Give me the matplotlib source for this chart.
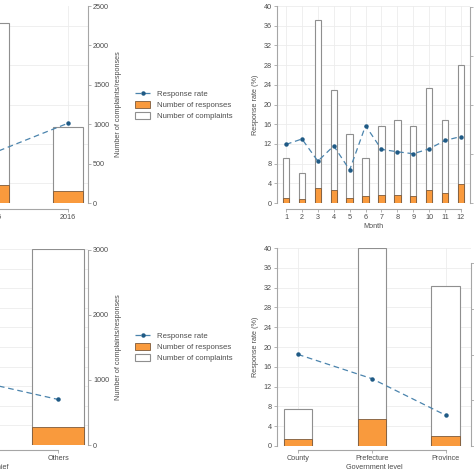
import numpy as np
import matplotlib.pyplot as plt
from matplotlib.lines import Line2D
from matplotlib.patches import Patch

plt.rcParams['font.family'] = ['Liberation Sans', 'DejaVu Sans']
plt.rcParams['font.size'] = 5.2

# --- data ---
# panel A: by year (only the two right-most years are in view)
years = ['2015', '2016']
year_complaints = [2280, 960]
year_responses = [228, 156]
year_rate = [10.2, 16.2]

# panel B: by month
months = list(range(1, 13))
month_complaints = [185, 123, 746, 460, 283, 185, 314, 338, 314, 470, 340, 565]
month_responses = [22, 16, 62, 52, 20, 28, 34, 34, 30, 52, 42, 76]
month_rate = [11.9, 13.0, 8.5, 11.6, 6.7, 15.7, 10.9, 10.4, 10.0, 11.0, 12.7, 13.5]

# panel C: by addressee (first category is out of view)
addressees = ['Party chief', 'Others']
addr_complaints = [1300, 3010]
addr_responses = [200, 275]
addr_rate = [15.2, 9.3]

# panel D: by government level
levels = ['County', 'Prefecture', 'Province']
level_complaints = [400, 2165, 1750]
level_responses = [74, 296, 108]
level_rate = [18.5, 13.6, 6.2]

ORANGE = '#f99a3d'
ORANGE_EDGE = '#7d5a3a'
BAR_EDGE = '#8f8f8f'
LINE_C = '#4b84ad'
DOT_C = '#1f5a85'
TXT = '#4d4d4d'
AX_C = '#a6a6a6'
GRID_C = '#ececec'

W = H = 474
fig = plt.figure(figsize=(W / 100, H / 100), dpi=100)
PT = 0.72  # points per pixel


def px_axes(x0, y0, x1, y1):
    return fig.add_axes([x0 / W, 1 - y1 / H, (x1 - x0) / W, (y1 - y0) / H])


def panel(rect, x, labels, complaints, responses, rate, xlim, bar_w,
          rtop, rticks, xlabel=None, xoff=6):
    ax = px_axes(*rect)          # bars, right-hand scale
    axl = ax.twinx()             # response rate, left-hand scale
    ax.yaxis.tick_right()
    ax.yaxis.set_label_position('right')
    axl.yaxis.tick_left()
    axl.yaxis.set_label_position('left')

    ax.bar(x, complaints, width=bar_w, color='white', edgecolor=BAR_EDGE, lw=0.8, zorder=2)
    ax.bar(x, responses, width=bar_w, color=ORANGE, edgecolor=ORANGE_EDGE, lw=0.6, zorder=3)
    axl.plot(x, rate, ls=(0, (4.5, 3)), color=LINE_C, lw=0.9,
             marker='o', ms=2.2, mfc=DOT_C, mec=DOT_C, zorder=4)

    ax.set_xlim(*xlim)
    ax.set_ylim(0, rtop)
    axl.set_ylim(0, 40)
    ax.set_yticks(rticks)
    axl.set_yticks(np.arange(0, 41, 4))

    # light grid behind the bars, at the rate ticks
    ax.set_yticks(np.arange(0, 41, 4) * rtop / 40, minor=True)
    ax.tick_params(axis='y', which='minor', length=0)
    ax.grid(True, which='minor', axis='y', color=GRID_C, lw=0.6, zorder=0)
    ax.grid(True, which='major', axis='x', color=GRID_C, lw=0.6, zorder=0)
    ax.set_axisbelow(True)

    ax.set_xticks(x, labels)

    for s in ['top', 'left']:
        ax.spines[s].set_visible(False)
    for s in ['top', 'right', 'bottom']:
        axl.spines[s].set_visible(False)
    ax.spines['bottom'].set_position(('outward', xoff * PT))
    ax.spines['bottom'].set_bounds(x[0], x[-1])
    ax.spines['right'].set_bounds(rticks[0], rticks[-1])
    axl.spines['left'].set_bounds(0, 40)
    for sp in [ax.spines['bottom'], ax.spines['right'], axl.spines['left']]:
        sp.set_color(AX_C)
        sp.set_linewidth(0.8)

    for a in (ax, axl):
        a.tick_params(which='major', length=2.2, width=0.6, color=AX_C,
                      labelcolor=TXT, pad=1.5, labelsize=5.2)

    ax.set_ylabel('Number of complaints/responses', color=TXT, labelpad=4)
    axl.set_ylabel('Response rate (%)', color=TXT, labelpad=3.5)
    if xlabel:
        ax.set_xlabel(xlabel, color=TXT, labelpad=1.0)
    return ax, axl


panel((-106, 6, 88, 203), np.arange(len(years)), years, year_complaints,
      year_responses, year_rate, (-1.35, 1.27), 0.405, 2500,
      np.arange(0, 2501, 500))

panel((277, 6, 470, 203), np.array(months), [str(m) for m in months],
      month_complaints, month_responses, month_rate, (0.43, 12.57), 0.4,
      804, np.arange(0, 801, 200), xlabel='Month')

panel((-106, 249, 88, 445), np.arange(len(addressees)), addressees,
      addr_complaints, addr_responses, addr_rate, (-0.28, 1.234), 0.4,
      3015, np.arange(0, 3001, 1000), xlabel='Local chief', xoff=5)

panel((277, 248, 471, 446), np.arange(len(levels)), levels,
      level_complaints, level_responses, level_rate, (-0.284, 2.34), 0.39,
      2166, np.arange(0, 2001, 500), xlabel='Government level', xoff=4)

handles = [
    Line2D([], [], ls=(0, (4.5, 3)), color=LINE_C, lw=0.9, marker='o', ms=2.2,
           mfc=DOT_C, mec=DOT_C),
    Patch(facecolor=ORANGE, edgecolor=ORANGE_EDGE, lw=0.6),
    Patch(facecolor='white', edgecolor=BAR_EDGE, lw=0.8),
]
names = ['Response rate', 'Number of responses', 'Number of complaints']
for yc in (105, 347):
    fig.legend(handles, names, loc='center left', bbox_to_anchor=(131 / W, 1 - yc / H),
               frameon=False, fontsize=5.6, handlelength=2.0, handleheight=0.9,
               handletextpad=0.8, labelspacing=0.45, borderpad=0, labelcolor=TXT)

fig.savefig('out.png', dpi=100)
